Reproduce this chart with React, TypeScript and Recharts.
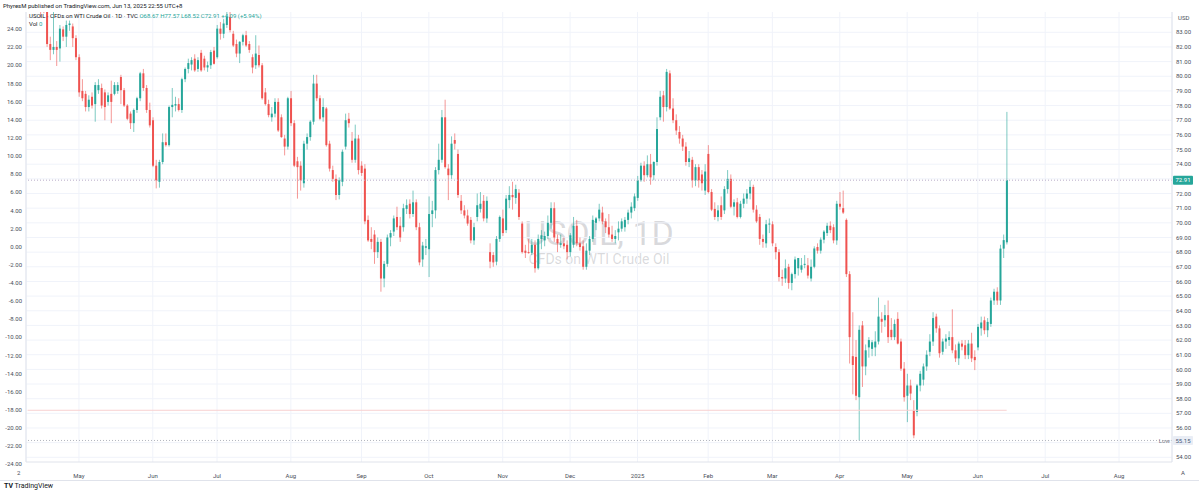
import React from 'react';
import { ComposedChart, Bar, XAxis, YAxis, CartesianGrid, ReferenceLine } from 'recharts';

const UP = '#26a69a';
const DOWN = '#ef5350';
const TEXT = '#4a4e59';
const FONT = 'Roboto, "Open Sans", sans-serif';

// [open, high, low, close], one row per daily bar
const apr24 = [
  [86.0, 86.4, 84.7, 85.0], [85.0, 86.1, 84.6, 85.8], [85.8, 86.0, 84.5, 84.7], [84.7, 87.3, 84.6, 85.3],
  [85.3, 85.7, 84.0, 85.0], [85.0, 85.5, 84.3, 84.9], [84.9, 85.1, 82.0, 82.2], [82.2, 82.7, 81.1, 81.8],
  [81.8, 85.4, 81.5, 82.0], [82.0, 82.4, 80.7, 81.8], [81.9, 83.5, 81.0, 83.25], [83.2, 83.4, 82.4, 82.7],
  [82.7, 83.8, 82.0, 83.5], [83.5, 83.8, 83.1, 83.6], [83.4, 83.6, 82.0, 82.6], [82.6, 82.8, 81.1, 81.3],
];
const may24 = [
  [81.3, 81.5, 78.6, 78.9], [79.0, 79.8, 78.3, 78.5], [78.8, 79.0, 77.6, 77.9], [77.9, 78.7, 77.6, 78.4],
  [78.6, 78.9, 77.8, 78.0], [78.1, 79.6, 76.9, 79.4], [79.05, 79.8, 78.8, 79.4], [79.2, 79.5, 77.8, 78.0],
  [78.9, 79.1, 77.0, 77.9], [78.25, 78.9, 78.0, 78.7], [78.8, 79.7, 76.8, 78.25], [78.8, 79.6, 78.7, 79.4],
  [79.0, 79.6, 78.8, 79.4], [79.95, 80.1, 78.1, 79.05], [79.05, 79.2, 77.9, 78.0], [78.0, 78.1, 77.0, 77.1],
  [77.45, 77.6, 76.4, 76.8], [76.8, 77.8, 76.2, 77.7], [77.7, 78.6, 77.5, 78.5], [78.5, 80.3, 78.3, 80.2],
  [80.2, 80.5, 79.0, 79.2], [79.2, 79.4, 77.5, 77.7], [77.7, 78.2, 76.5, 76.65],
];
const jun24 = [
  [77.0, 77.2, 73.8, 73.9], [73.9, 74.3, 72.35, 72.9], [72.8, 74.3, 72.4, 74.15], [74.15, 76.1, 74.0, 75.5],
  [75.5, 76.1, 75.2, 75.3], [75.3, 78.0, 75.2, 77.9], [77.9, 79.2, 77.2, 78.05], [78.0, 78.6, 77.6, 78.1],
  [78.1, 78.5, 77.6, 77.7], [77.7, 79.9, 77.5, 79.8], [79.8, 80.6, 79.6, 80.5], [80.5, 81.2, 80.2, 80.9],
  [80.8, 81.3, 80.4, 81.1], [81.2, 81.5, 80.3, 80.4], [80.5, 81.3, 80.3, 81.1], [81.6, 81.8, 80.3, 80.4],
  [81.2, 81.4, 80.4, 80.6], [80.6, 81.0, 80.3, 80.75], [80.75, 81.8, 80.5, 81.65], [81.75, 82.0, 80.8, 80.85],
];
const jul24 = [
  [81.3, 83.5, 81.2, 83.25], [83.25, 83.7, 82.5, 82.9], [82.9, 83.9, 82.6, 83.6], [83.5, 84.4, 83.3, 84.05],
  [84.05, 84.5, 83.0, 83.15], [82.9, 83.1, 82.0, 82.1], [82.2, 82.5, 81.3, 81.55], [81.55, 82.4, 80.9, 82.35],
  [82.35, 82.9, 82.1, 82.8], [82.8, 83.1, 82.0, 82.1], [82.2, 82.4, 81.6, 81.8], [81.3, 81.5, 80.2, 80.6],
  [80.75, 82.8, 80.5, 81.55], [81.45, 82.1, 80.6, 80.75], [80.75, 80.9, 78.4, 78.5], [78.9, 79.2, 78.0, 78.1],
  [78.1, 78.4, 77.2, 77.35], [77.2, 77.9, 76.9, 77.45], [77.45, 78.5, 77.2, 78.25], [78.25, 78.5, 76.2, 76.3],
  [77.2, 77.4, 75.8, 75.85], [75.75, 76.0, 74.6, 75.2], [75.2, 78.6, 75.0, 78.5],
];
const aug24 = [
  [78.5, 79.0, 76.6, 76.8], [76.8, 77.0, 73.8, 73.9], [74.2, 74.5, 71.65, 73.8], [73.9, 74.2, 72.2, 72.9],
  [72.7, 75.6, 72.4, 75.4], [75.4, 76.1, 75.0, 75.85], [75.85, 77.0, 75.6, 76.9], [76.9, 80.1, 76.7, 79.5],
  [79.5, 80.1, 78.3, 78.5], [78.5, 78.7, 77.0, 77.1], [77.2, 78.5, 76.9, 77.9], [77.8, 77.9, 75.2, 75.3],
  [75.4, 75.6, 73.5, 73.7], [73.6, 73.9, 72.8, 73.0], [73.0, 73.3, 71.55, 71.9], [71.9, 73.1, 71.6, 72.9],
  [72.8, 75.0, 72.5, 74.85], [75.2, 77.45, 75.0, 77.0], [77.1, 77.5, 76.5, 76.8], [75.6, 76.2, 74.1, 74.3],
  [74.3, 76.7, 74.1, 75.75], [75.75, 76.0, 73.3, 73.6],
];
const sep24 = [
  [73.9, 74.2, 73.2, 73.4], [73.7, 74.0, 69.9, 70.1], [70.2, 70.5, 68.7, 68.8], [68.9, 69.7, 68.2, 68.7],
  [69.2, 69.5, 67.2, 68.0], [68.0, 69.0, 67.6, 68.7], [68.7, 68.9, 65.3, 66.2], [66.2, 67.4, 65.6, 67.2],
  [67.2, 69.2, 67.0, 69.0], [69.0, 69.5, 68.4, 69.3], [69.4, 70.5, 69.1, 70.3], [70.4, 71.1, 69.5, 69.7],
  [69.8, 70.4, 68.7, 69.0], [69.7, 71.3, 69.4, 71.0], [70.95, 71.6, 70.6, 71.2], [71.3, 71.6, 70.3, 70.6],
  [70.6, 72.2, 70.4, 71.4], [71.4, 71.6, 69.5, 69.7], [69.7, 70.0, 67.1, 67.3], [67.5, 68.7, 67.0, 68.45],
  [68.3, 68.9, 67.8, 68.4],
];
const oct24 = [
  [68.2, 71.8, 66.3, 70.6], [70.6, 71.5, 69.7, 70.85], [70.85, 73.8, 70.3, 73.6], [73.6, 75.4, 73.3, 74.3],
  [74.3, 77.7, 74.1, 77.2], [77.2, 78.4, 73.7, 73.8], [73.7, 74.0, 71.55, 73.25], [73.25, 75.9, 73.0, 75.4],
  [75.65, 76.1, 75.0, 75.4], [74.7, 75.0, 71.7, 71.9], [71.5, 71.9, 70.6, 70.85], [70.85, 71.2, 70.3, 70.5],
  [70.5, 70.9, 69.8, 69.95], [70.2, 70.4, 68.6, 68.8], [68.8, 70.0, 68.5, 69.7], [70.4, 72.0, 70.1, 71.2],
  [70.95, 72.1, 70.7, 71.3], [71.5, 71.9, 70.1, 70.3], [70.3, 71.8, 70.0, 71.5], [68.0, 68.6, 66.9, 67.35],
  [67.8, 68.0, 67.0, 67.3], [67.35, 69.1, 67.1, 68.9], [68.9, 70.5, 68.7, 70.4],
];
const nov24 = [
  [70.3, 70.9, 69.1, 69.3], [69.5, 71.9, 69.3, 71.65], [71.55, 72.5, 71.0, 71.9], [71.9, 72.8, 70.9, 71.75],
  [71.7, 72.6, 71.3, 72.3], [72.05, 72.3, 70.2, 70.4], [69.95, 70.1, 67.9, 68.0], [68.1, 68.5, 67.6, 67.95],
  [68.0, 68.9, 67.9, 67.95], [67.95, 68.9, 67.8, 68.5], [68.5, 68.8, 66.6, 66.9], [66.9, 69.2, 66.8, 68.9],
  [68.9, 69.5, 68.2, 69.15], [68.8, 69.4, 68.4, 69.1], [69.1, 70.5, 68.9, 70.0], [70.0, 71.4, 69.6, 71.0],
  [71.0, 71.4, 68.7, 69.0], [68.9, 69.2, 68.0, 68.6], [68.5, 69.2, 68.3, 68.6], [68.6, 69.0, 68.2, 68.4],
  [68.5, 68.8, 67.5, 68.0],
];
const dec24 = [
  [68.0, 69.3, 67.7, 69.15], [68.5, 70.4, 68.3, 69.8], [69.8, 70.2, 68.4, 68.6], [68.6, 69.0, 68.1, 68.35],
  [68.4, 68.8, 66.8, 67.0], [67.0, 68.6, 66.8, 68.1], [68.1, 69.1, 67.8, 68.9], [68.9, 70.5, 68.7, 70.2],
  [70.0, 70.4, 69.5, 70.3], [70.3, 71.3, 70.1, 70.9], [70.7, 71.1, 69.9, 70.1], [70.1, 70.3, 69.3, 69.7],
  [69.7, 70.6, 69.0, 69.2], [69.2, 69.8, 68.7, 68.9], [68.9, 69.5, 68.6, 69.1], [69.35, 70.1, 68.8, 69.6],
  [69.6, 70.3, 69.4, 70.1], [69.7, 70.4, 69.4, 70.2], [70.2, 70.9, 69.9, 70.7], [70.7, 71.4, 70.3, 71.1],
  [71.0, 72.0, 70.8, 71.8],
];
const jan25 = [
  [71.7, 73.2, 71.5, 72.9], [72.9, 74.1, 72.8, 73.9], [73.9, 74.2, 72.8, 73.25], [73.25, 74.6, 73.1, 74.0],
  [74.0, 74.7, 72.6, 73.1], [73.25, 74.2, 72.9, 74.15], [74.15, 77.2, 73.9, 76.4], [77.2, 79.0, 77.0, 78.6],
  [78.7, 79.0, 76.9, 77.9], [77.9, 80.5, 77.6, 80.3], [80.2, 80.4, 77.7, 77.8], [77.8, 78.5, 76.8, 77.0],
  [77.0, 77.4, 76.0, 76.3], [76.2, 76.6, 75.4, 75.75], [75.75, 76.0, 74.9, 75.2], [75.2, 75.5, 73.9, 74.15],
  [74.15, 74.9, 73.8, 74.4], [74.3, 74.5, 72.4, 72.9], [72.9, 74.0, 72.5, 73.8], [73.8, 74.0, 72.4, 72.9],
  [73.3, 73.6, 72.2, 72.7], [72.2, 74.0, 71.9, 73.5],
];
const feb25 = [
  [74.7, 75.3, 72.0, 72.1], [72.1, 72.3, 70.8, 70.9], [70.95, 71.4, 70.2, 70.4], [70.4, 71.2, 70.1, 70.85],
  [71.2, 71.8, 70.2, 70.4], [70.85, 72.5, 70.6, 72.3], [72.3, 73.6, 72.0, 73.0], [73.0, 73.3, 71.0, 71.1],
  [71.1, 71.6, 70.5, 71.4], [71.4, 71.7, 70.3, 70.4], [70.4, 71.5, 70.3, 71.3], [71.3, 72.0, 71.0, 71.65],
  [71.65, 72.3, 71.3, 72.0], [72.0, 72.9, 71.6, 72.45], [72.45, 72.6, 70.7, 70.9], [70.9, 71.2, 70.0, 70.1],
  [70.4, 70.6, 68.5, 68.9], [68.9, 69.2, 68.3, 68.7], [68.6, 70.2, 68.3, 69.9], [69.9, 70.3, 69.3, 69.95],
];
const mar25 = [
  [69.9, 70.1, 68.4, 68.6], [68.35, 68.6, 67.5, 68.0], [68.0, 68.2, 66.0, 66.3], [66.3, 66.8, 65.7, 66.2],
  [66.2, 67.5, 65.9, 66.9], [67.0, 67.2, 65.5, 65.9], [65.9, 66.6, 65.4, 66.5], [66.5, 67.7, 66.2, 67.5],
  [66.9, 67.6, 66.4, 67.6], [66.8, 67.6, 66.6, 67.1], [67.15, 67.8, 66.9, 67.2], [67.1, 67.6, 66.2, 66.4],
  [66.2, 67.5, 66.0, 67.0], [67.0, 68.4, 66.9, 68.25], [68.35, 68.6, 67.9, 68.1], [68.1, 69.0, 67.9, 68.85],
  [68.85, 69.5, 68.6, 69.4], [69.3, 70.0, 69.1, 69.8], [69.8, 70.1, 69.3, 69.5], [69.7, 69.9, 68.6, 68.8],
  [68.8, 71.5, 68.5, 71.3],
];
const apr25 = [
  [71.3, 72.1, 70.9, 71.1], [71.0, 72.2, 70.6, 70.7], [70.2, 70.3, 66.3, 66.5], [66.5, 66.7, 60.4, 62.2],
  [60.9, 63.9, 58.3, 60.3], [60.85, 62.0, 57.9, 58.2], [58.1, 63.0, 55.15, 62.7], [63.0, 63.3, 58.8, 60.2],
  [60.2, 61.7, 59.6, 61.3], [61.5, 62.2, 60.8, 62.0], [61.4, 62.0, 60.9, 61.85], [61.5, 62.6, 60.9, 61.9],
  [61.9, 64.9, 61.7, 63.6], [63.45, 63.9, 62.5, 63.25], [63.35, 64.4, 62.9, 63.7], [63.7, 64.7, 61.8, 62.2],
  [62.7, 63.5, 62.0, 62.2], [62.2, 63.4, 62.0, 63.1], [63.45, 63.9, 61.7, 61.76], [61.9, 62.1, 59.9, 60.05],
  [60.05, 60.5, 57.8, 58.1],
];
const may25 = [
  [58.2, 59.7, 56.4, 58.9], [58.9, 59.3, 57.9, 58.35], [57.2, 57.9, 55.3, 55.5], [57.1, 59.0, 56.8, 58.9],
  [58.9, 59.9, 58.5, 59.7], [59.3, 60.4, 58.9, 60.2], [60.2, 61.3, 59.9, 61.0], [61.2, 62.4, 60.9, 61.9],
  [61.9, 63.9, 61.6, 63.5], [63.6, 63.8, 62.5, 62.8], [62.8, 63.0, 60.8, 61.1], [61.2, 62.1, 61.0, 61.9],
  [61.9, 62.4, 61.4, 62.1], [62.0, 62.6, 61.6, 62.2], [62.2, 64.1, 61.1, 61.3], [61.3, 61.7, 60.5, 60.75],
  [60.75, 61.9, 60.3, 61.76], [61.76, 62.0, 61.3, 61.55], [61.65, 62.0, 60.7, 60.97], [60.97, 62.0, 60.7, 61.76],
  [61.76, 62.5, 60.5, 60.75], [60.85, 61.3, 59.95, 60.63],
];
const jun25 = [
  [61.5, 63.1, 61.3, 62.9], [62.8, 63.6, 62.3, 63.2], [63.35, 63.6, 62.4, 62.67], [62.67, 63.5, 62.2, 63.24],
  [63.1, 64.9, 62.9, 64.7], [64.7, 65.5, 64.4, 65.3], [65.3, 65.6, 64.4, 64.7], [64.7, 68.5, 64.4, 68.24],
  [68.24, 69.2, 67.6, 68.82], [68.67, 77.57, 68.52, 72.91],
];

const candles = [
  ...apr24, ...may24, ...jun24, ...jul24, ...aug24, ...sep24, ...oct24, ...nov24, ...dec24,
  ...jan25, ...feb25, ...mar25, ...apr25, ...may25, ...jun25,
];

const firstDay = '2024-04-09';
const holidays = ['2024-12-25', '2025-01-01', '2025-04-18'];
const totalSlots = 357; // past bars plus the empty days the chart shows ahead

const monthStarts = [
  '2024-05-01', '2024-06-03', '2024-07-01', '2024-08-01', '2024-09-02', '2024-10-01', '2024-11-01', '2024-12-02',
  '2025-01-02', '2025-02-03', '2025-03-03', '2025-04-01', '2025-05-01', '2025-06-02', '2025-07-01', '2025-08-01',
];
const monthLabels = ['May', 'Jun', 'Jul', 'Aug', 'Sep', 'Oct', 'Nov', 'Dec', '2025', 'Feb', 'Mar', 'Apr', 'May', 'Jun', 'Jul', 'Aug'];

const priceTicks = [54, 56, 57, 58, 59, 60, 61, 62, 63, 64, 65, 66, 67, 68, 69, 70, 71, 72, 74, 75, 76, 77, 78, 79, 80, 81, 82, 83];
const gridPrices = [54, 55, 56, 57, 58, 59, 60, 61, 62, 63, 64, 65, 66, 67, 68, 69, 70, 71, 72, 73, 74, 75, 76, 77, 78, 79, 80, 81, 82, 83, 84];
const pctTicks = [-24, -22, -20, -18, -16, -14, -12, -10, -8, -6, -4, -2, 0, 2, 4, 6, 8, 10, 12, 14, 16, 18, 20, 22, 24];

const lastClose = 72.91;
const lowMark = 55.15;
const redLevel = 57.21;

function tradingDays(start: string, count: number, skip: string[]) {
  const out: string[] = [];
  const d = new Date(start + 'T00:00:00Z');
  while (out.length < count) {
    const iso = d.toISOString().slice(0, 10);
    const wd = d.getUTCDay();
    const inPast = out.length < candles.length;
    if (wd !== 0 && wd !== 6 && !(inPast && skip.includes(iso))) out.push(iso);
    d.setUTCDate(d.getUTCDate() + 1);
  }
  return out;
}

const days = tradingDays(firstDay, totalSlots, holidays);
const rows = days.map((key, i) => {
  const c = candles[i];
  if (!c) return { key };
  return { key, open: c[0], high: c[1], low: c[2], close: c[3], range: [c[2], c[1]] };
});

const Candle = (props: any) => {
  const { x, y, width, height, payload } = props;
  if (!payload || payload.open == null) return null;
  const { open, close, high, low } = payload;
  const color = close >= open ? UP : DOWN;
  const cx = x + width / 2;
  const k = high === low ? 0 : height / (high - low);
  const top = y + (high - Math.max(open, close)) * k;
  const bottom = y + (high - Math.min(open, close)) * k;
  return (
    <g>
      <line x1={cx} x2={cx} y1={y} y2={y + height} stroke={color} strokeOpacity={0.6} strokeWidth={1} />
      <rect x={cx - 1} y={top} width={2} height={Math.max(1, bottom - top)} fill={color} />
    </g>
  );
};

const Tag = ({ viewBox, text, bg, color, prefix }: any) => {
  if (!viewBox) return null;
  const x = viewBox.x + viewBox.width;
  const y = viewBox.y;
  return (
    <g>
      {prefix && (
        <text x={x - 2} y={y} dy="0.35em" textAnchor="end" fontSize={6} fill="#787b86" fontFamily={FONT}>
          {prefix}
        </text>
      )}
      <rect x={x + 1} y={y - 4.5} width={20} height={9} fill={bg} rx={1} />
      <text x={x + 11} y={y} dy="0.35em" textAnchor="middle" fontSize={6} fill={color} fontFamily={FONT}>
        {text}
      </text>
    </g>
  );
};

const small: React.CSSProperties = { position: 'absolute', fontSize: 6, lineHeight: '8px', whiteSpace: 'nowrap', fontFamily: FONT };

export default function App() {
  return (
    <div style={{ position: 'absolute', left: 0, top: 0, width: 1199, height: 493, background: '#fff', overflow: 'hidden', fontFamily: FONT }}>
      <div style={{ position: 'absolute', left: 26, width: 1146, top: 216, textAlign: 'center', color: 'rgba(120,123,134,0.28)', fontSize: 34, lineHeight: '34px' }}>
        USOIL, 1D
      </div>
      <div style={{ position: 'absolute', left: 26, width: 1146, top: 251, textAlign: 'center', color: 'rgba(120,123,134,0.28)', fontSize: 14, lineHeight: '16px' }}>
        CFDs on WTI Crude Oil
      </div>

      <div style={{ position: 'absolute', left: 0, top: 0 }}>
        <ComposedChart width={1199} height={480} data={rows} margin={{ top: 12, right: 0, bottom: 0, left: 0 }}>
          <CartesianGrid yAxisId="price" stroke="#f0f3fa" horizontalValues={gridPrices} />
          <XAxis
            dataKey="key"
            ticks={monthStarts}
            interval={0}
            height={18}
            tickLine={false}
            axisLine={{ stroke: '#e0e3eb' }}
            tickMargin={6}
            tick={{ fontSize: 6, fill: TEXT, fontFamily: FONT }}
            tickFormatter={(v: string) => monthLabels[monthStarts.indexOf(v)] ?? ''}
          />
          <YAxis
            yAxisId="pct"
            orientation="left"
            width={26}
            domain={[-23.74, 25.87]}
            allowDataOverflow
            ticks={pctTicks}
            interval={0}
            tickLine={false}
            tickSize={0}
            tickMargin={4}
            axisLine={{ stroke: '#e0e3eb' }}
            tick={{ fontSize: 6, fill: TEXT, fontFamily: FONT }}
            tickFormatter={(v: number) => v.toFixed(2)}
          />
          <YAxis
            yAxisId="price"
            orientation="right"
            width={27}
            domain={[53.68, 84.385]}
            allowDataOverflow
            ticks={priceTicks}
            interval={0}
            tickLine={false}
            tickSize={0}
            tickMargin={4}
            axisLine={{ stroke: '#e0e3eb' }}
            tick={{ fontSize: 6, fill: TEXT, fontFamily: FONT }}
            tickFormatter={(v: number) => v.toFixed(2)}
          />
          <ReferenceLine
            yAxisId="price"
            segment={[{ x: days[0], y: redLevel }, { x: days[candles.length - 1], y: redLevel }]}
            stroke="#f8d0d0"
            strokeWidth={1}
          />
          <ReferenceLine
            yAxisId="price"
            y={lowMark}
            stroke="#b2b5be"
            strokeDasharray="1 2"
            label={<Tag text={lowMark.toFixed(2)} bg="#e9edf5" color="#4a5a78" prefix="Low" />}
          />
          <ReferenceLine
            yAxisId="price"
            y={lastClose}
            stroke="#b9adc8"
            strokeDasharray="1 2"
            label={<Tag text={lastClose.toFixed(2)} bg={UP} color="#ffffff" />}
          />
          <Bar yAxisId="price" dataKey="range" shape={<Candle />} isAnimationActive={false} />
        </ComposedChart>
      </div>

      <div style={{ ...small, left: 3, top: 2, color: '#131722' }}>
        PhyresM published on TradingView.com, Jun 13, 2025 22:55 UTC+8
      </div>
      <div style={{ ...small, left: 29, top: 12, color: '#131722' }}>
        USOIL · CFDs on WTI Crude Oil · 1D · TVC{'  '}
        <span style={{ color: UP }}>O68.67 H77.57 L68.52 C72.91 +4.09 (+5.94%)</span>
      </div>
      <div style={{ ...small, left: 29, top: 20, color: '#131722' }}>
        Vol <span style={{ color: UP }}>0</span>
      </div>
      <div style={{ ...small, left: 1178, top: 14, color: TEXT }}>USD</div>
      <div style={{ ...small, left: 17, top: 469, color: TEXT }}>2</div>
      <div style={{ ...small, left: 1181, top: 469, color: TEXT }}>A</div>
      <div style={{ position: 'absolute', left: 0, top: 480, width: 1199, height: 1, background: '#e0e3eb' }} />
      <div style={{ ...small, left: 4, top: 482, fontSize: 7, lineHeight: '9px', color: '#131722' }}>
        <b>TV</b> TradingView
      </div>
    </div>
  );
}
